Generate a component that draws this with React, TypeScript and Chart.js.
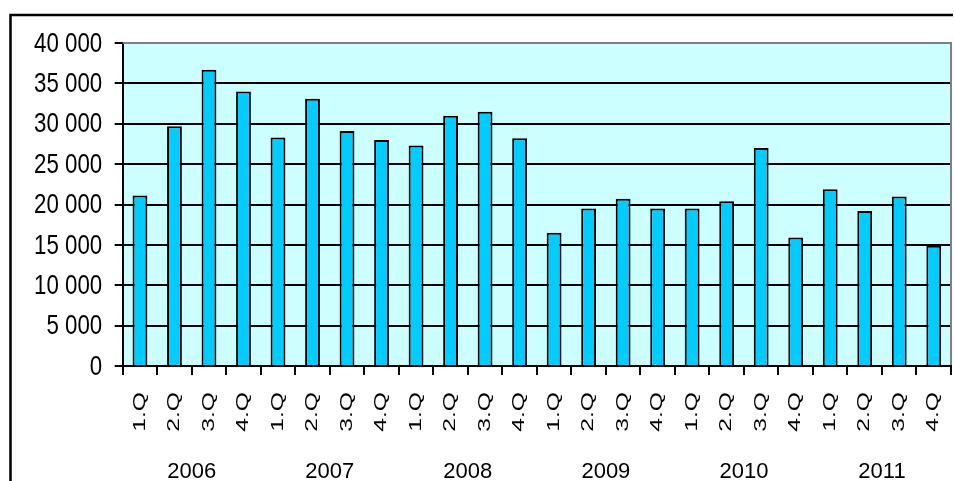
import { useEffect, useRef } from "react";
import { Chart, registerables } from "chart.js";

Chart.register(...registerables);

// Quarterly values, 2006–2011
const quarters = [
  "1.Q", "2.Q", "3.Q", "4.Q",
  "1.Q", "2.Q", "3.Q", "4.Q",
  "1.Q", "2.Q", "3.Q", "4.Q",
  "1.Q", "2.Q", "3.Q", "4.Q",
  "1.Q", "2.Q", "3.Q", "4.Q",
  "1.Q", "2.Q", "3.Q", "4.Q",
];
const years = ["2006", "2007", "2008", "2009", "2010", "2011"];
const values = [
  21100, 29700, 36700, 34000,
  28300, 33100, 29100, 28000,
  27300, 31000, 31500, 28200,
  16500, 19500, 20700, 19500,
  19500, 20400, 27000, 15900,
  21900, 19200, 21000, 14900,
];
const yMax = 40000;
const yStep = 5000;

const formatThousands = (v: number) =>
  String(v).replace(/\B(?=(\d{3})+(?!\d))/g, " ");

const FONT = '"Liberation Sans", Arial, sans-serif';

// Plot background, outer frame, plot border and condensed / rotated tick labels
const decorPlugin = {
  id: "decor",
  beforeDraw(chart: any) {
    const { ctx, chartArea } = chart;
    ctx.save();
    ctx.fillStyle = "#CCFFFF";
    ctx.fillRect(
      chartArea.left,
      chartArea.top,
      chartArea.right - chartArea.left,
      chartArea.bottom - chartArea.top
    );
    ctx.strokeStyle = "#000";
    ctx.lineWidth = 2.5;
    ctx.beginPath();
    ctx.moveTo(10.5, chart.height);
    ctx.lineTo(10.5, 15);
    ctx.lineTo(chart.width - 1, 15);
    ctx.stroke();
    ctx.restore();
  },
  afterDraw(chart: any) {
    const { ctx, chartArea } = chart;
    ctx.save();
    ctx.strokeStyle = "#808080";
    ctx.lineWidth = 2;
    ctx.beginPath();
    ctx.moveTo(chartArea.left, chartArea.top);
    ctx.lineTo(chartArea.right, chartArea.top);
    ctx.lineTo(chartArea.right, chartArea.bottom - 1);
    ctx.stroke();

    ctx.fillStyle = "#000";

    // value axis labels, slightly condensed
    const ys = chart.scales.y;
    ctx.font = `28px ${FONT}`;
    ctx.textAlign = "right";
    ctx.textBaseline = "middle";
    ys.ticks.forEach((t: any) => {
      const py = ys.getPixelForValue(t.value);
      ctx.save();
      ctx.translate(ys.right - 20.5, py + 1);
      ctx.scale(0.795, 1);
      ctx.fillText(formatThousands(t.value), 0, 0);
      ctx.restore();
    });

    // quarter labels, rotated and elongated
    const xs = chart.scales.x;
    ctx.font = `17px ${FONT}`;
    ctx.textAlign = "right";
    ctx.textBaseline = "middle";
    quarters.forEach((q, i) => {
      const px = xs.getPixelForValue(i);
      ctx.save();
      ctx.translate(px, xs.top + 26);
      ctx.rotate(-Math.PI / 2);
      ctx.scale(1.45, 1);
      ctx.fillText(q, 0, 0);
      ctx.restore();
    });
    ctx.restore();
  },
};

export default function App() {
  const canvasRef = useRef<HTMLCanvasElement | null>(null);

  useEffect(() => {
    const canvas = canvasRef.current;
    if (!canvas) return;
    const chart = new Chart(canvas, {
      type: "bar",
      data: {
        labels: quarters.map((q, i) => `${q} ${years[Math.floor(i / 4)]}`),
        datasets: [
          {
            data: values,
            backgroundColor: "#00CCFF",
            borderColor: "#000",
            borderWidth: 2,
            categoryPercentage: 1,
            barPercentage: 0.43,
          },
        ],
      },
      options: {
        responsive: false,
        animation: false,
        layout: { padding: { left: 0, top: 43, right: 3, bottom: 0 } },
        plugins: {
          legend: { display: false },
          title: { display: false },
          tooltip: { enabled: false },
        },
        scales: {
          x: {
            type: "category",
            position: "bottom",
            weight: 0,
            offset: true,
            grid: {
              offset: true,
              drawOnChartArea: false,
              drawTicks: true,
              tickLength: 9,
              tickColor: "#000",
              tickWidth: 2,
              lineWidth: 2,
              color: "#000",
            },
            border: { display: true, color: "#000", width: 2 },
            ticks: { display: false },
            afterFit: (scale: any) => {
              scale.height = 70;
            },
          },
          x2: {
            type: "category",
            axis: "x",
            position: "bottom",
            weight: 1,
            offset: true,
            labels: years,
            grid: { display: false, drawTicks: false },
            border: { display: false },
            ticks: {
              color: "#000",
              padding: 23,
              maxRotation: 0,
              minRotation: 0,
              font: { family: FONT, size: 22 },
            },
            afterFit: (scale: any) => {
              scale.height = 45;
            },
          },
          y: {
            min: 0,
            max: yMax,
            position: "left",
            grid: {
              color: (c: any) =>
                c.tick && c.tick.value === yMax ? "rgba(0,0,0,0)" : "#000",
              lineWidth: 2,
              tickLength: 8,
              tickColor: "#000",
              tickWidth: 2,
              drawTicks: true,
            },
            border: { display: true, color: "#000", width: 2 },
            ticks: {
              stepSize: yStep,
              display: false,
            },
            afterFit: (scale: any) => {
              scale.width = 122.7;
            },
          },
        },
      },
      plugins: [decorPlugin],
    });
    return () => chart.destroy();
  }, []);

  return (
    <canvas
      ref={canvasRef}
      width={954}
      height={481}
      style={{ position: "absolute", left: 0, top: 0, display: "block" }}
    />
  );
}
